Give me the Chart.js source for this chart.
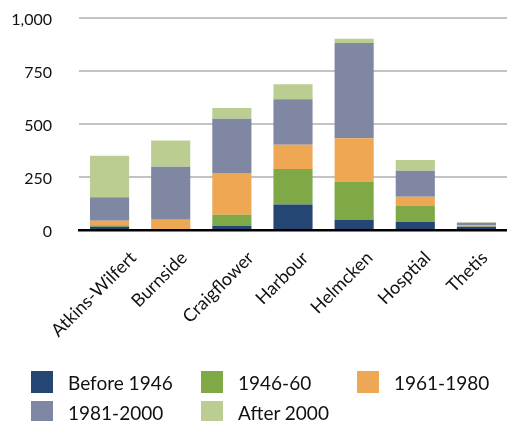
<!DOCTYPE html>
<html>
<head>
<meta charset="utf-8">
<script src="https://cdn.jsdelivr.net/npm/chart.js@4.4.0/dist/chart.umd.min.js"></script>
<style>
  html, body { margin:0; padding:0; background:#fff; }
  body { width:507px; height:421px; position:relative; overflow:hidden; font-family: Lato, "Open Sans", sans-serif; }
  #wrap { position:absolute; left:0; top:-19px; width:507px; height:379px; }
  .legend { position:absolute; left:0; top:0; width:507px; height:421px; pointer-events:none; }
  .item { position:absolute; display:flex; align-items:center; height:22px; font-size:19px; color:#111; white-space:nowrap; }
  .sw { width:22px; height:22px; margin-right:15px; }
</style>
</head>
<body>
<div id="wrap"><canvas id="chart"></canvas></div>
<div class="legend" id="legend"></div>
<script>
// ---------- data ----------
const schools = ['Atkins-Wilfert','Burnside','Craigflower','Harbour','Helmcken','Hosptial','Thetis'];
const periods = ['Before 1946','1946-60','1961-1980','1981-2000','After 2000'];
const colors  = ['#254573','#7fa947','#eea853','#8087a3','#bccd92'];

const before1946 = [15, 0, 19, 120, 48, 39, 15];
const y1946to60  = [7, 0, 53, 167, 180, 76, 2];
const y1961to80  = [22, 48, 196, 114, 204, 41, 5];
const y1981to00  = [110, 250, 256, 215, 448, 123, 12];
const after2000  = [195, 123, 50, 70, 21, 50, 3];
const series = [before1946, y1946to60, y1961to80, y1981to00, after2000];

const yTicks = [0, 250, 500, 750, 1000];

// rotated category labels, anchored like the original (end sits right of the bar centre)
const xLabels = {
  id: 'xLabels',
  afterDraw(chart){
    const c = chart.ctx, x = chart.scales.x;
    c.save();
    c.font = '18px Lato';
    c.fillStyle = '#111';
    c.textAlign = 'right';
    c.textBaseline = 'alphabetic';
    schools.forEach((name,i)=>{
      const w = c.measureText(name).width;
      c.save();
      c.translate(x.getPixelForValue(i) + w*0.25, x.top + 29);
      c.rotate(-Math.PI/4);
      c.fillText(name, 0, 0);
      c.restore();
    });
    c.restore();
  }
};

// ---------- chart ----------
const ctx = document.getElementById('chart').getContext('2d');

const chart = new Chart(ctx, {
  type: 'bar',
  data: {
    labels: schools,
    datasets: series.map((d,i)=>({
      label: periods[i],
      data: d,
      backgroundColor: colors[i],
      borderWidth: 0,
      barPercentage: 0.64,
      categoryPercentage: 1
    }))
  },
  options: {
    responsive: true,
    maintainAspectRatio: false,
    animation: false,
    layout: { padding: { top: 16, right: 0, left: 0, bottom: 0 } },
    plugins: {
      legend: { display: false },
      tooltip: { enabled: false }
    },
    scales: {
      x: {
        stacked: true,
        grid: { display: false, drawTicks: false },
        border: { display: true, color: '#000', width: 2.5 },
        ticks: { display: false },
        afterFit: s => { s.height = 130; }
      },
      y: {
        stacked: true,
        min: 0, max: 1000,
        afterBuildTicks: s => { s.ticks = yTicks.map(v => ({ value: v })); },
        grid: {
          color: c => c.tick.value === 0 ? 'rgba(0,0,0,0)' : '#c3c3c3',
          lineWidth: 2,
          drawTicks: false
        },
        border: { display: false },
        ticks: {
          color: '#111',
          font: { family: 'Lato', size: 16 },
          padding: 27,
          labelOffset: 2,
          callback: v => v.toLocaleString('en-US')
        },
        afterFit: s => { s.width = 79; }
      }
    }
  },
  plugins: [xLabels]
});

// ---------- legend (html) ----------
const legendPos = [[31,371],[201,371],[357,371],[31,401],[201,401]];
const lg = document.getElementById('legend');
periods.forEach((p,i)=>{
  const el = document.createElement('div');
  el.className = 'item';
  el.style.left = legendPos[i][0] + 'px';
  el.style.top = legendPos[i][1] + 'px';
  el.innerHTML = `<span class="sw" style="background:${colors[i]}"></span><span>${p}</span>`;
  lg.appendChild(el);
});
</script>
</body>
</html>
